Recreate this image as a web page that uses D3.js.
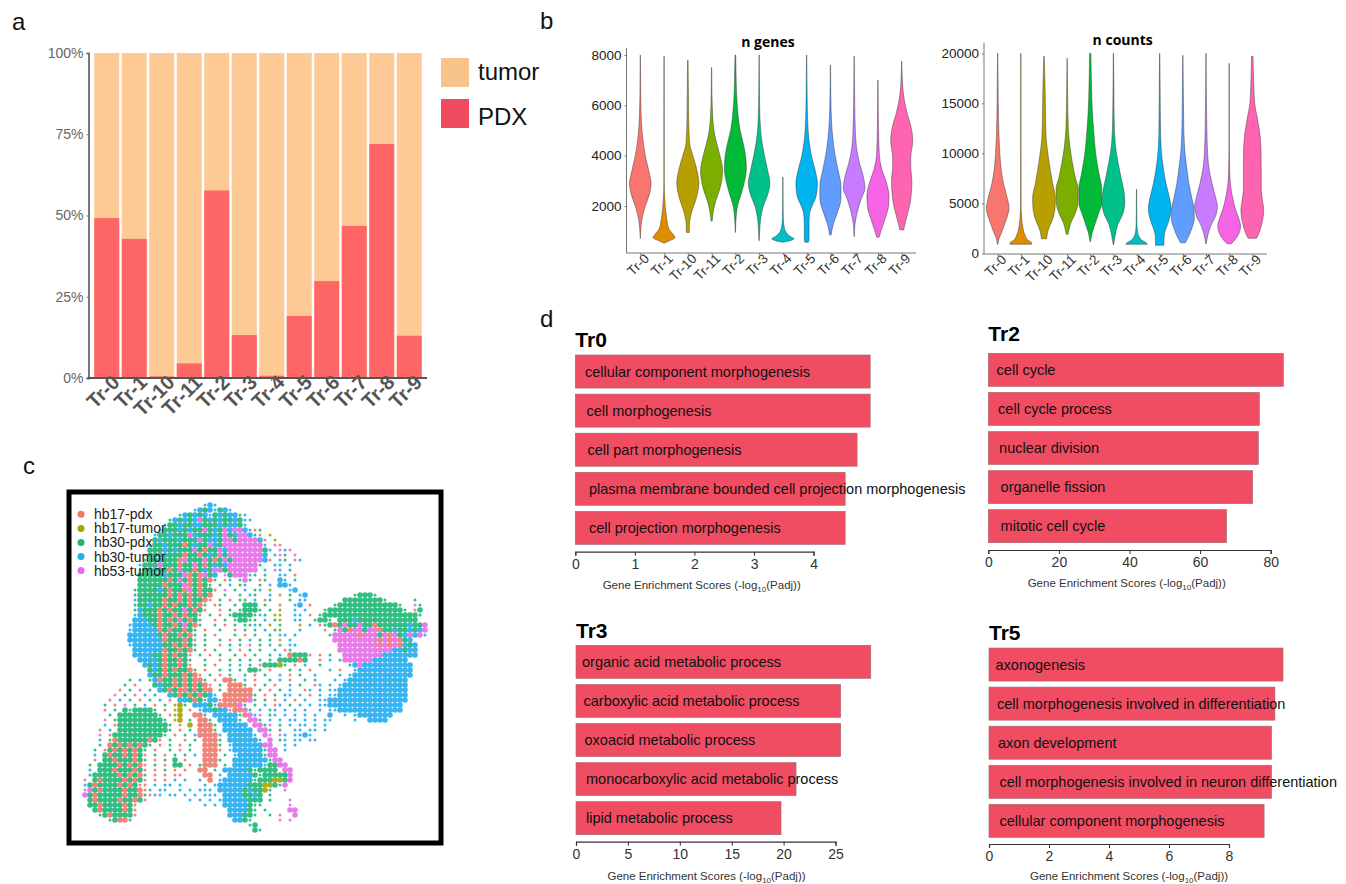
<!DOCTYPE html>
<html>
<head>
<meta charset="utf-8">
<script src="https://cdn.jsdelivr.net/npm/d3@7"></script>
<style>
  html, body { margin: 0; padding: 0; background: #fff; }
  svg { display: block; font-family: "Liberation Sans", Arial, sans-serif; }
</style>
</head>
<body>
<div id="chart"></div>
<script>
// cluster names, same order in panels a and b
const clusters = ["Tr-0", "Tr-1", "Tr-10", "Tr-11", "Tr-2", "Tr-3", "Tr-4", "Tr-5", "Tr-6", "Tr-7", "Tr-8", "Tr-9"];
const clusterColors = ["#F8766D", "#DE8C00", "#B79F00", "#7CAE00", "#00BA38", "#00C08B", "#00BFC4", "#00B4F0", "#619CFF", "#C77CFF", "#F564E3", "#FF64B0"];

// panel a: percent of PDX cells per cluster, the rest is tumor
const pdxPercent = [49.2, 42.8, 0.5, 4.5, 57.7, 13.2, 0.7, 19.1, 29.8, 46.8, 72, 13];
const percentTicks = [0, 25, 50, 75, 100];

// panel b: violin outlines as [value, relative density]
const genesViolins = [
  [[700,0],[1100,.05],[1500,.15],[2000,.42],[2500,.78],[2900,.9],[3300,.75],[4000,.42],[4500,.25],[5300,.1],[6500,.03],[8000,.01]],
  [[520,0],[620,.45],[750,.92],[850,.8],[1100,.4],[1500,.22],[2000,.1],[2500,.04],[3000,.015],[7950,.01]],
  [[950,.12],[1300,.14],[1800,.35],[2300,.7],[2900,.92],[3500,.72],[4000,.42],[4500,.15],[5500,.07],[7000,.04],[7800,.02]],
  [[1400,.05],[1800,.15],[2200,.35],[2700,.7],[3400,.92],[4000,.7],[4500,.42],[5000,.2],[5500,.1],[6500,.03],[7500,.01]],
  [[950,.01],[1500,.06],[2000,.18],[2500,.5],[3000,.78],[3500,.92],[4000,.85],[4500,.65],[5000,.4],[5500,.25],[6500,.1],[7500,.05],[8000,.03]],
  [[620,.01],[1000,.05],[1500,.13],[2000,.35],[2500,.75],[2900,.9],[3400,.72],[4000,.45],[4600,.22],[5500,.07],[6500,.03],[8000,.01]],
  [[560,0],[620,.6],[700,.92],[800,.6],[950,.28],[1200,.1],[1500,.04],[2000,.02],[3150,.01]],
  [[560,.15],[700,.2],[1300,.2],[1700,.25],[2000,.45],[2400,.8],[2900,.9],[3400,.72],[4000,.4],[4600,.2],[5500,.08],[6500,.04],[8000,.01]],
  [[850,.06],[1200,.2],[1700,.55],[2300,.88],[2800,.88],[3400,.65],[4000,.4],[4600,.22],[5500,.08],[6500,.03],[7600,.01]],
  [[780,.01],[1300,.08],[1800,.28],[2300,.6],[2700,.9],[3200,.75],[3700,.45],[4300,.2],[5000,.1],[6000,.05],[7950,.01]],
  [[760,.1],[1000,.25],[1500,.6],[2000,.88],[2400,.92],[2900,.72],[3500,.3],[4000,.12],[5000,.05],[7000,.01]],
  [[1050,.16],[1300,.28],[1700,.5],[2300,.76],[3000,.85],[3500,.76],[3900,.75],[4600,.92],[5200,.75],[5700,.45],[6200,.22],[6800,.08],[7750,.01]]
];
const countsViolins = [
  [[900,.02],[1500,.12],[2000,.3],[3000,.6],[4000,.88],[4500,.95],[5500,.8],[7000,.48],[8500,.28],[10000,.18],[12000,.1],[15000,.05],[20000,.01]],
  [[900,.9],[1050,.9],[1300,.6],[1800,.35],[2500,.18],[3500,.07],[5000,.02],[20000,.01]],
  [[1450,.22],[2200,.32],[3500,.75],[4500,.92],[5500,.95],[7000,.72],[8500,.5],[10000,.32],[11500,.18],[13000,.14],[16000,.1],[18000,.06],[19700,.02]],
  [[1900,.08],[3000,.3],[4000,.68],[5000,.9],[6500,.92],[7500,.7],[9000,.45],[10500,.25],[12500,.1],[16000,.04],[19500,.01]],
  [[1150,.02],[2000,.15],[3000,.42],[4000,.7],[5000,.95],[6500,.95],[8000,.72],[10000,.45],[12000,.3],[14000,.18],[17000,.1],[20000,.05]],
  [[850,.02],[1800,.15],[2800,.35],[4000,.8],[5000,.95],[6000,.9],[7500,.65],[9000,.4],[11000,.15],[13500,.06],[17000,.03],[20000,.01]],
  [[900,.9],[1000,.85],[1300,.45],[1700,.2],[2200,.08],[3000,.03],[6400,.01]],
  [[800,.35],[1800,.38],[2400,.5],[3200,.75],[4500,.95],[5500,.82],[7000,.52],[8500,.3],[10500,.12],[13000,.06],[16000,.04],[20000,.01]],
  [[1050,.2],[1500,.4],[2500,.75],[3500,.95],[4500,.92],[5500,.75],[7000,.5],[8500,.33],[10000,.18],[12000,.09],[15000,.05],[19800,.01]],
  [[950,.02],[1800,.15],[2800,.42],[3800,.82],[4700,.95],[5500,.82],[7000,.5],[8500,.25],[10000,.13],[12500,.07],[16000,.03],[20000,.01]],
  [[950,.18],[1300,.45],[2000,.82],[2700,.95],[3500,.8],[4500,.5],[5500,.3],[7000,.1],[9000,.03],[12000,.01],[19000,.01]],
  [[1500,.35],[2000,.55],[3000,.8],[4300,.95],[5500,.82],[6500,.74],[8500,.74],[10500,.72],[12000,.62],[13500,.42],[15000,.2],[17000,.12],[19700,.06]]
];
const genesTicks = [2000, 4000, 6000, 8000];
const countsTicks = [0, 5000, 10000, 15000, 20000];

// panel c: samples, and the embedding at coarse resolution.
// each run is [bin row, first bin column, cells], one letter is the sample that
// dominates that bin, upper case = crowded bin, lower case = a few cells, "." = empty
const samples = ["hb17-pdx", "hb17-tumor", "hb30-pdx", "hb30-tumor", "hb53-tumor"];
const sampleColors = ["#F0786A", "#A3A500", "#1DB877", "#22ADF0", "#E56BE8"];
const sampleLetters = ["r", "o", "g", "b", "m"];
const umapRuns = [
  [0,25,"bBb"],
  [1,23,"bBGBbGBb"],
  [2,20,"gBGBGBbGBGBBgb"],
  [3,18,"gBGBGBMGBGBGGBGbb"],
  [4,17,"bGGBGGBBGGGBGBBGb"],
  [5,16,"bGGGBGBGGMGBGMBMMBbrg"],
  [6,15,"bGGBGGGMBGGGBGMGBMMBgr"],[6,38,"o"],
  [7,15,"GBGGGBGGGMGBBGMMGMMMMBr.o"],
  [8,14,"bGGBGGGRGBGGMBGMMMMMMMMb"],[8,39,"mr"],
  [9,14,"GGGBGBGGGMGRGGMBMMMMMMMGb."],[9,40,"mbm"],
  [10,13,"bGGGBGGGRGGRGBGMGMMMMMMMB.bmg.m"],
  [11,13,"gGGBGGGRMGGGMGRGMGMMMMMMBr.bg.rb"],
  [12,12,"bGGGMGGGRGGMGRGBGBMMMMMMg..bb.b"],
  [13,12,"gGGBGGRGMGGRGBGMMGMMMMMM.b.mb.g"],
  [14,12,"GGGGGBGGGMRGRMGB.mGMMMbg.g..bb.r"],
  [15,12,"GGGGGGRGMGRGRGRg.rb.gMg.rg..Bb.b"],
  [16,12,"GGGGGRGGGMRGRGg.g.b.gb..g.b.BBb"],
  [17,11,"gGGGGBGRGGRMGRGGr.m.g.b.gb.o...bB"],
  [18,11,"gGGGGGGRGRGRGRGR..g..g.bg..b.r.g.bB"],[18,55,"gGGGg"],
  [19,11,"bGGGGGRGGRGRGGRr.g.r.gg.b.rg...g.bb"],[19,53,"GGGGGGGGg"],[19,67,"g"],
  [20,11,"gGGBGGRGRGGRGRg.rg..g.GGG.g..r..bB.r"],[20,51,"gGGGGGGGGGGGGg"],[20,67,"mg"],
  [21,11,"gBGGGRGRGGMGRGr..r.g.gGGGg.g.o..b.b"],[21,49,"gGGGGGGGGGGGGGGGg"],[21,67,"rG"],
  [22,11,"bBGGGRGGRGRGGr.g.r.gGGGGgbg.oo..bb.r"],[22,48,"gGGGGGGGGGGGGGGGGGGGg"],
  [23,11,"BBBGGRGRGMGRGg..r.g.gGGgg.b.go..bb"],[23,47,"gGGg.GGGBGGGGGGGGGGGG"],
  [24,10,"bBBBBGRGGRGMGRg..g.r.g.ggbg.o.g...o.b"],[24,48,"rgGRGMGGMGGRGGGGGGBGGM"],
  [25,10,"bBBBBBRGRGGRGg.r..g..r.g.g.b.go...b"],[25,49,"r.gMGRMMGMMRGGBGGBGBM"],
  [26,10,"BBBBBBGRGGRGRg.g.r...g.r.g..g.bb.g"],[26,50,"gMMMMMRMMMGMRMGBMBMb"],
  [27,10,"BBBBBBBRGGGRGr.g..g.r.g.b.g.g.r.b"],[27,51,"MMMMMMMMMRMRMRGB"],
  [28,10,"bBBBBBBGGRGRGg.g..r.g.g.r.g.b.g.bb"],[28,52,"MMMMMMMMRMRMRBGB"],
  [29,11,"BBBBBBRGGRGRg.r.g..g.r.g.g..b.rg"],[29,52,"MMMMMMMMMMMBBGBB"],
  [30,11,"BBBBGGRGRGGr.g.r.g..g.r.g..g.b.RGGGr.r.g"],[30,53,"MMMMMMMMBBBBBBB"],
  [31,12,"BBBBGRGGRGg..g..r.g.g.g.b.g.GGGGRG"],[31,48,"r.b.g"],[31,53,"MMMMMMBBBBBBB"],
  [32,13,"BGBGRGGRGr..g.r..g.b.g.rGGGOg.r.b..g"],[32,54,"gBMBBBBBBBBBB"],
  [33,14,"GBGRGRGGRg.r..g.b.g.GGg.r...g.b.r"],[33,50,"b.r..bBBBBBBBBBBB"],
  [34,14,"BGGRGGGRGRr.g.r.g..g.r.g..b.r.g..b"],[34,52,"b.bBBBBBBBBBBBB"],
  [35,10,"g.b"],[35,14,"gBRGGRGRGRRg.r.RRg.b.r..g.b.r..g.b"],[35,50,".b.bBBBBBBBBBBBB"],
  [36,9,"g.r"],[36,15,"GBGGRGRGRGRr.g.RRRg.r.g.r..b.g..r"],[36,48,"b.b.bBBBBBBBBBBBBB"],
  [37,8,"r.g.m.b"],[37,16,"BGRGRRGRGRR.g.RRRRR.g.r.g.b..r"],[37,46,"b.b.bbBBBBBBBBBBBBBB"],
  [38,7,"m.g.r.b.g"],[38,18,"BGRGRGRGBb.RRRRRRg.r.g.b"],[38,42,"b.b.r.b.bbBBBBBBBBBBBBBB"],
  [39,6,"m.b.g.r.g.b.r"],[39,20,"BBGRGbBBrRRRRRMg.g.r"],[39,41,"b.r.b..bbBBBBBBBBBBBBBBBB"],
  [40,5,"g.r.m.g.b.r.g"],[40,19,"oOg.BBBGbRRRRMg.g.b.r"],[40,40,"b.g.b.b.bbBBBBBBBBBBBBBBB"],
  [41,5,"r.g.GgGGGGg.r.oO"],[41,22,"r.bBBGBBrRRMg.b.g"],[41,39,"b.b.b.b..b.bbBBBBBBBBBBBBB"],
  [42,6,"g.GGGGGGGGg.roO"],[42,23,"RRg.BBBBBgRMbm.g"],[42,39,"b.b.b.b.b..B..b.bBBBBBBB"],
  [43,5,"m.gGGGGGGGGGg.oO"],[43,22,"g.RRg.BBBBg.MMg.b"],[43,40,"b.bb.b.b.bb....b..BBBB"],
  [44,5,"b.rGGGGGGGGGGg.r.O.g"],[44,24,"RRRg.BBBBB.MMgm.g"],[44,42,"b.bb.b.b"],
  [45,4,"r.b.GGGGGGGGGGg.r.g"],[45,24,"RRRg.BBBBBB.MMg.g"],[45,43,"bb.bb.b"],
  [46,4,"m.rGGGGGGGGGGg.r.g.b"],[46,24,"RRRRb.BBBBBb.Mm.m"],[46,41,"b.bbBb"],
  [47,4,"b.gRGGGGGGRGr.g..r.g"],[47,25,"RRRg.BBBBBBb.M.g"],[47,41,"b.bb.bb"],
  [48,4,"g.RGRGRGRGg.r.g.r.g"],[48,25,"RRRg.bBBBBBB"],[48,37,"MM"],[48,41,"b.b"],
  [49,3,"g.rGRGRGRGg.r..g.r.g"],[49,25,"RRRr.bBBBBBBg"],[49,38,"MM"],[49,41,"b"],
  [50,3,"b.GRGGRGRGr.g.r.g.g.b"],[50,25,"RRR.g.bBBBBBg"],[50,38,"MM"],
  [51,3,"r.GGRGGGRGg.r.g.G.r"],[51,25,"RRRg..BBBBBBBg"],[51,39,"MM"],
  [52,2,"g.GGGGRGRGRr.g.r.GG.r.g"],[52,25,"RRR.g.BBBBBBbGGg"],[52,40,"MM"],
  [53,2,"b.GGGRGGGRGr.r.g.r.r"],[53,24,"RR.g.BBBBBGgGGGG"],[53,41,"MM"],
  [54,2,"gGGGGGRGRGRg.r.r.rr"],[54,25,"RR.b.BBBBBGgGGGGG"],[54,42,"M"],
  [55,1,"m.GRGGGGRGRGr.r.r.b.b"],[55,24,"b.R.bBBBBBBgGGGOOGg"],[55,42,"M"],
  [56,1,"bGRGGGGRGRGrr.b.bb.b"],[56,25,"b.bBBBBBBGGGOOGg"],[56,41,"M"],
  [57,1,"mMGRGGGGRGGRrb.bb..b.b.bb"],[57,26,"b.BBBBBGBGGOg"],[57,41,"m"],
  [58,1,"MGRGGGGGRGGRgr"],[58,15,"bb.bb.b.b.bb"],[58,27,"b.BBBBGGBG.g"],
  [59,2,"GRGGGGRGGRGr"],[59,22,"b.b.b.b"],[59,29,"BBBBBGGG.g"],[59,42,"m"],
  [60,2,"GGRGGGGRGr"],[60,25,"b.b"],[60,29,"BBBBBGgg"],[60,42,"m"],
  [61,3,"GRGGGGRGr"],[61,30,"BBBBGg.g"],[61,42,"MM"],
  [62,4,"gGRGGGGr"],[62,30,"BBBGGg"],[62,38,"g.m"],[62,43,"M"],
  [63,6,"gGRRg"],[63,31,"BBGg"],[63,40,"m.m"],
  [64,34,"gG"],
  [65,35,"Gb"]
];

// panel d: top enriched terms per cluster
const tr0Terms = ["cellular component morphogenesis", "cell morphogenesis", "cell part morphogenesis", "plasma membrane bounded cell projection morphogenesis", "cell projection morphogenesis"];
const tr0Scores = [4.95, 4.95, 4.73, 4.53, 4.53];
const tr0Ticks = [0, 1, 2, 3, 4];
const tr2Terms = ["cell cycle", "cell cycle process", "nuclear division", "organelle fission", "mitotic cell cycle"];
const tr2Scores = [83.6, 76.8, 76.5, 74.9, 67.5];
const tr2Ticks = [0, 20, 40, 60, 80];
const tr3Terms = ["organic acid metabolic process", "carboxylic acid metabolic process", "oxoacid metabolic process", "monocarboxylic acid metabolic process", "lipid metabolic process"];
const tr3Scores = [28.4, 25.5, 25.5, 21.2, 19.75];
const tr3Ticks = [0, 5, 10, 15, 20, 25];
const tr5Terms = ["axonogenesis", "cell morphogenesis involved in differentiation", "axon development", "cell morphogenesis involved in neuron differentiation", "cellular component morphogenesis"];
const tr5Scores = [9.8, 9.53, 9.42, 9.42, 9.17];
const tr5Ticks = [0, 2, 4, 6, 8];

const svg = d3.select("#chart").append("svg")
  .attr("width", 1346)
  .attr("height", 884);

// panel letters
[["a", 12, 30], ["b", 540, 29], ["c", 23, 474], ["d", 540, 327]].forEach(function (l) {
  svg.append("text").attr("x", l[1]).attr("y", l[2])
    .style("font-size", "24px").attr("fill", "#111").text(l[0]);
});

// ---- panel a: stacked percent bars
const xA = d3.scaleBand().domain(clusters).range([91.75, 424.25]).padding(0.0909);
const yA = d3.scaleLinear().domain([0, 100]).range([378, 53]);
const gA = svg.append("g");

gA.selectAll(".tumor").data(clusters).join("rect").attr("class", "tumor")
  .attr("x", d => xA(d)).attr("width", xA.bandwidth())
  .attr("y", yA(100)).attr("height", yA(0) - yA(100))
  .attr("fill", "#FDC995");
gA.selectAll(".pdx").data(clusters).join("rect").attr("class", "pdx")
  .attr("x", d => xA(d)).attr("width", xA.bandwidth())
  .attr("y", (d, i) => yA(pdxPercent[i])).attr("height", (d, i) => yA(0) - yA(pdxPercent[i]))
  .attr("fill", "#FF6666");

const yAxisA = gA.append("g").attr("transform", "translate(88.5,0)")
  .call(d3.axisLeft(yA).tickValues(percentTicks).tickFormat(d => d + "%").tickSize(2));
yAxisA.selectAll("text").style("font-size", "14px").attr("fill", "#666");
yAxisA.selectAll("line").attr("stroke", "#777");
yAxisA.select(".domain").attr("stroke", "#777").attr("stroke-width", 2);

const xAxisA = gA.append("g").attr("transform", "translate(0,378)")
  .call(d3.axisBottom(xA).tickSize(3).tickSizeOuter(0));
xAxisA.select(".domain").attr("stroke", "#555").attr("stroke-width", 2)
  .attr("d", "M87.5,0H427");
xAxisA.selectAll("line").attr("stroke", "#666");
xAxisA.selectAll("text")
  .style("font-size", "20px").style("font-weight", "bold").attr("fill", "#555")
  .attr("text-anchor", "end").attr("dy", 0).attr("x", 6).attr("y", 14)
  .attr("transform", "rotate(-45)");

// legend of panel a
const legendA = [["tumor", "#F8C48C", 58, 80], ["PDX", "#F04A5E", 99, 125]];
legendA.forEach(function (l) {
  gA.append("rect").attr("x", 441).attr("y", l[2]).attr("width", 28).attr("height", 29).attr("fill", l[1]);
  gA.append("text").attr("x", 478).attr("y", l[3]).style("font-size", "24px").attr("fill", "#111").text(l[0]);
});

// ---- panel b: violins
function drawViolins(violins, title, ticks, o) {
  const x = d3.scalePoint().domain(clusters).range(o.xRange);
  const y = d3.scaleLinear().domain(o.yDomain).range(o.yRange);
  const w = d3.scaleLinear().domain([0, 1]).range([0, 12]);
  const g = svg.append("g");

  const area = d3.area()
    .y(d => y(d[0]))
    .x0(d => -w(d[1]))
    .x1(d => w(d[1]))
    .curve(d3.curveMonotoneY);

  g.selectAll("path.violin").data(violins).join("path")
    .attr("class", "violin")
    .attr("transform", (d, i) => "translate(" + x(clusters[i]) + ",0)")
    .attr("d", area)
    .attr("fill", (d, i) => clusterColors[i])
    .attr("stroke", "#333")
    .attr("stroke-opacity", 0.75)
    .attr("stroke-width", 0.6);

  const yAxis = g.append("g").attr("transform", "translate(" + o.left + ",0)")
    .call(d3.axisLeft(y).tickValues(ticks).tickFormat(d3.format("d")).tickSize(2).tickSizeOuter(0));
  yAxis.selectAll("text").style("font-size", "13.5px").attr("fill", "#222");
  yAxis.select(".domain").attr("stroke", "#777").attr("d", "M0," + o.bottom + "V" + o.top);
  yAxis.selectAll("line").attr("stroke", "#777");

  const xAxis = g.append("g").attr("transform", "translate(0," + o.bottom + ")")
    .call(d3.axisBottom(x).tickSize(2).tickSizeOuter(0));
  xAxis.select(".domain").attr("stroke", "#777").attr("d", "M" + o.left + ",0H" + o.right);
  xAxis.selectAll("line").attr("stroke", "#777");
  xAxis.selectAll("text")
    .style("font-size", "13.5px").attr("fill", "#333")
    .attr("text-anchor", "end").attr("dy", 0).attr("x", 2).attr("y", 11)
    .attr("transform", "rotate(-45)");

  g.append("text").attr("x", o.titleX).attr("y", o.titleY)
    .attr("text-anchor", "middle")
    .style("font-family", "'Open Sans'").style("font-size", "14px").style("font-weight", "bold")
    .attr("fill", "#000").text(title);
}

drawViolins(genesViolins, "n genes", genesTicks, {
  xRange: [640.3, 901.7], yDomain: [2000, 8000], yRange: [206, 55],
  left: 626.5, right: 916, top: 48, bottom: 253, titleX: 768, titleY: 47
});
drawViolins(countsViolins, "n counts", countsTicks, {
  xRange: [997.7, 1252.3], yDomain: [0, 20000], yRange: [253.3, 53.3],
  left: 984, right: 1267, top: 43, bottom: 254, titleX: 1122.7, titleY: 45
});

// ---- panel c: embedding, one dot per occupied bin
const gC = svg.append("g");
const colScale = d3.scaleLinear().domain([0, 70]).range([80, 430]);
const rowScale = d3.scaleLinear().domain([0, 66]).range([505, 835]);
const sampleColor = d3.scaleOrdinal().domain(sampleLetters).range(sampleColors);

const umapCells = [];
umapRuns.forEach(function (run) {
  run[2].split("").forEach(function (c, i) {
    if (c !== ".") umapCells.push({ row: run[0], col: run[1] + i, letter: c.toLowerCase(), crowded: c !== c.toLowerCase() });
  });
});

gC.selectAll("circle").data(umapCells).join("circle")
  .attr("cx", d => colScale(d.col))
  .attr("cy", d => rowScale(d.row))
  .attr("r", d => d.crowded ? 2.8 : 1.5)
  .attr("fill", d => sampleColor(d.letter))
  .attr("fill-opacity", 0.9);

gC.append("rect").attr("x", 69).attr("y", 492).attr("width", 372).attr("height", 351)
  .attr("fill", "none").attr("stroke", "#000").attr("stroke-width", 5);

const yLegend = d3.scalePoint().domain(samples).range([514.3, 570.6]);
samples.forEach(function (s, i) {
  gC.append("circle").attr("cx", 81).attr("cy", yLegend(s)).attr("r", 3.5).attr("fill", sampleColors[i]);
  gC.append("text").attr("x", 94).attr("y", yLegend(s) + 5).style("font-size", "14px").attr("fill", "#222").text(s);
});

// ---- panel d: enrichment bars
const labelSteps = [0, 1.5, 2.5, 4, 4]; // the labels drift right going down in the original

function drawEnrichment(title, terms, scores, ticks, o) {
  const x = d3.scaleLinear().domain([0, ticks[ticks.length - 1]]).range([o.left, o.tickEnd]);
  const y = d3.scaleBand().domain(terms).range([o.top, o.top + 189.4]).paddingInner(0.154);
  const g = svg.append("g");

  g.append("text").attr("x", o.left).attr("y", o.titleY)
    .style("font-size", "21px").style("font-weight", "bold").attr("fill", "#000").text(title);

  g.selectAll("rect").data(terms).join("rect")
    .attr("x", x(0))
    .attr("y", d => y(d))
    .attr("width", (d, i) => x(scores[i]) - x(0))
    .attr("height", y.bandwidth())
    .attr("fill", "#F04C62")
    .attr("stroke", "#9a6a72")
    .attr("stroke-width", 0.6);

  g.selectAll("text.term").data(terms).join("text")
    .attr("class", "term")
    .attr("x", (d, i) => x(0) + o.indent + labelSteps[i])
    .attr("y", d => y(d) + y.bandwidth() / 2 + 5)
    .style("font-size", "14.5px")
    .attr("fill", "#111")
    .text(d => d);

  const axis = g.append("g").attr("transform", "translate(0," + o.axisY + ")")
    .call(d3.axisBottom(x).tickValues(ticks).tickFormat(d3.format("d")).tickSize(4));
  axis.selectAll("text").style("font-size", "14px").attr("fill", "#333").attr("dy", "0.72em");
  axis.select(".domain").attr("stroke", "#333").attr("stroke-width", 1.2);
  axis.selectAll("line").attr("stroke", "#333");

  const label = g.append("text").attr("x", o.labelX).attr("y", o.labelY)
    .attr("text-anchor", "middle")
    .style("font-size", "11.5px").attr("fill", "#333")
    .text("Gene Enrichment Scores (-log");
  label.append("tspan").attr("dy", 3).style("font-size", "8px").text("10");
  label.append("tspan").attr("dy", -3).text("(Padj))");
}

drawEnrichment("Tr0", tr0Terms, tr0Scores, tr0Ticks, {
  left: 575.3, tickEnd: 813.6, top: 355, axisY: 551.7, indent: 9.7, titleY: 346.7, labelX: 701.7, labelY: 589
});
drawEnrichment("Tr2", tr2Terms, tr2Scores, tr2Ticks, {
  left: 988.3, tickEnd: 1270.7, top: 353.3, axisY: 550, indent: 8.3, titleY: 341, labelX: 1126.7, labelY: 587
});
drawEnrichment("Tr3", tr3Terms, tr3Scores, tr3Ticks, {
  left: 576, tickEnd: 835.5, top: 645.3, axisY: 841.7, indent: 6, titleY: 637.7, labelX: 706.5, labelY: 880
});
drawEnrichment("Tr5", tr5Terms, tr5Scores, tr5Ticks, {
  left: 989, tickEnd: 1229, top: 648, axisY: 844, indent: 6.5, titleY: 640, labelX: 1129, labelY: 880
});
</script>
</body>
</html>
